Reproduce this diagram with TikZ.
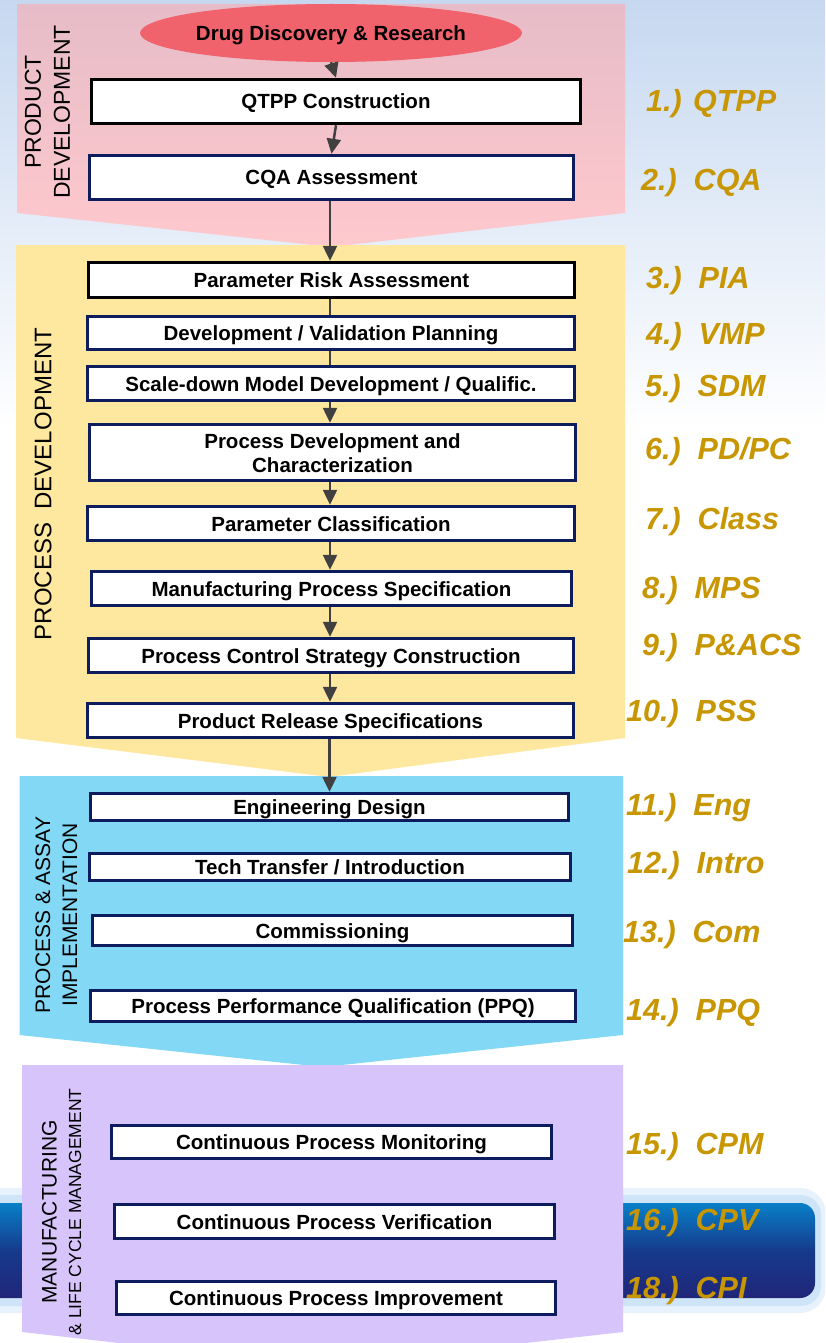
\documentclass[tikz,border=0pt]{standalone}
\usepackage{fontspec}
\setmainfont{Liberation Sans}
\usetikzlibrary{arrows.meta,shapes.geometric,calc}
\definecolor{navy}{RGB}{12,28,92}
\definecolor{arrowgray}{RGB}{64,64,64}
\definecolor{gold}{RGB}{200,150,0}
\definecolor{pinktop}{RGB}{230,188,200}
\definecolor{pinkbot}{RGB}{255,201,205}
\definecolor{yellowp}{RGB}{254,232,160}
\definecolor{bluep}{RGB}{130,216,245}
\definecolor{purplep}{RGB}{214,196,250}
\definecolor{redell}{RGB}{240,98,108}
\definecolor{bgblue}{RGB}{198,216,240}
\definecolor{bandtop}{RGB}{8,128,200}
\definecolor{bandmid}{RGB}{22,58,140}
\definecolor{bandbot}{RGB}{32,38,120}
\definecolor{glowc}{RGB}{160,205,245}
\begin{document}
\begin{tikzpicture}[x=1pt,y=-1pt,
  stepbox/.style={draw=navy, line width=3.5pt, fill=white, inner sep=0pt,
    font=\bfseries\fontsize{20.5}{24}\selectfont, align=center,
    text height=15pt, text depth=0pt},
  blackbox/.style={stepbox, draw=black},
  conn/.style={draw=arrowgray, line width=2.5pt},
  arr/.style={conn, -{Triangle[width=14pt,length=15pt]}},
  phase/.style={rotate=90, align=center, inner sep=0pt},
  num/.style={text=gold, font=\bfseries\itshape\fontsize{30.5}{36}\selectfont,
    anchor=base west, inner sep=0pt}]
\useasboundingbox (0,0) rectangle (825,1343);
\clip (0,0) rectangle (825,1343);
% background
\fill[white] (0,0) rectangle (825,1343);
\shade[top color=bgblue, bottom color=white] (0,0) rectangle (825,430);
% dark band with glow
\fill[glowc, opacity=0.25, rounded corners=26pt] (-30,1188) rectangle (826,1313);
\fill[glowc, opacity=0.35, rounded corners=20pt] (-30,1195) rectangle (821,1306);
\shade[top color=bandtop, bottom color=bandbot, middle color=bandmid, rounded corners=15pt]
  (-30,1203) rectangle (815,1298);
% phase panels
\shade[top color=pinktop, bottom color=pinkbot]
  (17,4) -- (625,4) -- (625,213) -- (331,247) -- (17,213) -- cycle;
\fill[yellowp] (16,245) -- (625,245) -- (625,738) -- (329,777) -- (16,738) -- cycle;
\fill[bluep] (19.5,776) -- (623,776) -- (623,1035) -- (323,1067) -- (19.5,1035) -- cycle;
\fill[purplep] (22,1065) -- (623,1065) -- (623,1332) -- (322,1366) -- (22,1332) -- cycle;
% phase titles
\node[phase, font=\fontsize{23}{29}\selectfont] (t1) at (47.5,112) {PRODUCT\\DEVELOPMENT};
\node[phase, font=\fontsize{24}{29}\selectfont] (t2) at (43,484) {PROCESS\ \ DEVELOPMENT};
\node[phase, font=\fontsize{21}{27}\selectfont] (t3) at (56.5,915) {PROCESS \& ASSAY\\IMPLEMENTATION};
\node[phase, font=\fontsize{21}{25}\selectfont] (t4a) at (49.5,1212) {MANUFACTURING};
\node[phase, font=\fontsize{17.5}{21}\selectfont] (t4b) at (75,1212) {\& LIFE CYCLE MANAGEMENT};
% start ellipse
\node[ellipse, fill=redell, minimum width=374pt, minimum height=58pt, inner sep=0pt,
  font=\bfseries\fontsize{20.5}{24}\selectfont, text height=15pt, text depth=0pt]
  (dd) at (331,33) {Drug Discovery \& Research};
% steps
\node[blackbox, minimum width=489pt, minimum height=44pt] (qtpp) at (336,101.5) {QTPP Construction};
\node[stepbox, minimum width=484pt, minimum height=44pt] (cqa) at (331.5,177.5) {CQA Assessment};
\node[blackbox, minimum width=486pt, minimum height=35pt] (pra) at (331.5,280) {Parameter Risk Assessment};
\node[stepbox, minimum width=487pt, minimum height=33pt] (dvp) at (331,333) {Development / Validation Planning};
\node[stepbox, minimum width=487pt, minimum height=34pt] (sdm) at (331,383.5) {Scale-down Model Development / Qualific.};
\node[stepbox, minimum width=486pt, minimum height=56pt, text height=39pt] (pdc) at (332.5,452.5) {Process Development and\\Characterization};
\node[stepbox, minimum width=487pt, minimum height=34pt] (pcl) at (331,523.5) {Parameter Classification};
\node[stepbox, minimum width=480pt, minimum height=34pt] (mps) at (331.5,588.5) {Manufacturing Process Specification};
\node[stepbox, minimum width=485pt, minimum height=34pt] (pcs) at (331,655.5) {Process Control Strategy Construction};
\node[stepbox, minimum width=486pt, minimum height=34pt] (prs) at (330.5,720.5) {Product Release Specifications};
\node[stepbox, minimum width=478pt, minimum height=27pt] (eng) at (329.5,807) {Engineering Design};
\node[stepbox, minimum width=481pt, minimum height=27pt] (tt) at (330,867) {Tech Transfer / Introduction};
\node[stepbox, minimum width=480pt, minimum height=30pt] (com) at (332.5,930.5) {Commissioning};
\node[stepbox, minimum width=485pt, minimum height=31pt] (ppq) at (333,1006) {Process Performance Qualification (PPQ)};
\node[stepbox, minimum width=440pt, minimum height=33pt] (cpm) at (331.5,1142) {Continuous Process Monitoring};
\node[stepbox, minimum width=440pt, minimum height=34pt] (cpv) at (334.5,1221.5) {Continuous Process Verification};
\node[stepbox, minimum width=439pt, minimum height=33pt] (cpi) at (336,1298) {Continuous Process Improvement};
% connectors
\draw[arr] (dd.south) -- (qtpp.north);
\draw[arr] (qtpp.south) -- (cqa.north);
\draw[arr] ([xshift=-1.5pt]cqa.south) -- ([xshift=-1.5pt]cqa.south |- pra.north);
\draw[conn] ([xshift=-1.5pt]pra.south) -- ([xshift=-1.5pt]pra.south |- dvp.north);
\draw[conn] ([xshift=-1pt]dvp.south) -- ([xshift=-1pt]dvp.south |- sdm.north);
\draw[arr] ([xshift=-1pt]sdm.south) -- ([xshift=-1pt]sdm.south |- pdc.north);
\draw[arr] ([xshift=-2.5pt]pdc.south) -- ([xshift=-2.5pt]pdc.south |- pcl.north);
\draw[arr] ([xshift=-1pt]pcl.south) -- ([xshift=-1pt]pcl.south |- mps.north);
\draw[arr] ([xshift=-1.5pt]mps.south) -- ([xshift=-1.5pt]mps.south |- pcs.north);
\draw[arr] ([xshift=-1pt]pcs.south) -- ([xshift=-1pt]pcs.south |- prs.north);
\draw[arr] ([xshift=-1pt]prs.south) -- ([xshift=-1pt]prs.south |- eng.north);
% step labels
\node[num] (n1) at (646,112) {1.) QTPP};
\node[num] (n2) at (641,190) {2.)~~CQA};
\node[num] (n3) at (646,288) {3.)~~PIA};
\node[num] (n4) at (646,344) {4.)~~VMP};
\node[num] (n5) at (645,396) {5.)~~SDM};
\node[num] (n6) at (645,459) {6.)~~PD/PC};
\node[num] (n7) at (645,529) {7.)~~Class};
\node[num] (n8) at (642,598) {8.)~~MPS};
\node[num] (n9) at (642,655) {9.)~~P\&ACS};
\node[num] (n10) at (626,721) {10.)~~PSS};
\node[num] (n11) at (626,815) {11.)~~Eng};
\node[num] (n12) at (627,873) {12.)~~Intro};
\node[num] (n13) at (623,942) {13.)~~Com};
\node[num] (n14) at (626,1020) {14.)~~PPQ};
\node[num] (n15) at (626,1154) {15.)~~CPM};
\node[num] (n16) at (626,1230) {16.)~~CPV};
\node[num] (n18) at (626,1298) {18.)~~CPI};
\end{tikzpicture}
\end{document}
